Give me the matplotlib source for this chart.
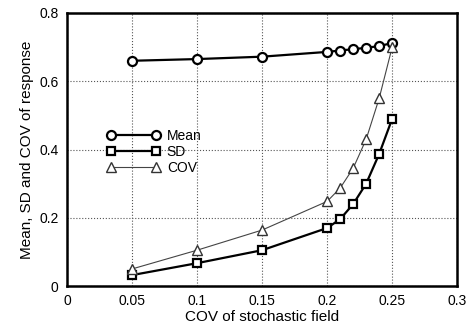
import numpy as np
import matplotlib

matplotlib.use('Agg')
import matplotlib.pyplot as plt

plt.rcParams['font.family'] = ['Liberation Sans', 'DejaVu Sans']

# data
cov_field = [0.05, 0.1, 0.15, 0.2, 0.21, 0.22, 0.23, 0.24, 0.25]
mean_resp = [0.660, 0.665, 0.672, 0.686, 0.690, 0.694, 0.698, 0.703, 0.712]
sd_resp = [0.032, 0.067, 0.105, 0.170, 0.196, 0.240, 0.300, 0.387, 0.490]
cov_resp = [0.050, 0.105, 0.164, 0.248, 0.287, 0.345, 0.430, 0.550, 0.700]

x_ticks = [0, 0.05, 0.1, 0.15, 0.2, 0.25, 0.3]
x_labels = ['0', '0.05', '0.1', '0.15', '0.2', '0.25', '0.3']
y_ticks = [0, 0.2, 0.4, 0.6, 0.8]
y_labels = ['0', '0.2', '0.4', '0.6', '0.8']

fig = plt.figure(figsize=(4.68, 3.33), dpi=100)
ax = fig.add_axes([0.143, 0.141, 0.834, 0.82])

ax.plot(cov_field, mean_resp, '-', color='black', lw=1.6, marker='o', ms=6.5,
        mfc='white', mec='black', mew=1.6, label='Mean')
ax.plot(cov_field, sd_resp, '-', color='black', lw=1.6, marker='s', ms=6,
        mfc='white', mec='black', mew=1.6, label='SD')
ax.plot(cov_field, cov_resp, '-', color='#444444', lw=0.8, marker='^', ms=6.5,
        mfc='white', mec='#333333', mew=1.0, label='COV')

ax.set_xlim(0, 0.3)
ax.set_ylim(0, 0.8)
ax.set_xticks(x_ticks)
ax.set_xticklabels(x_labels)
ax.set_yticks(y_ticks)
ax.set_yticklabels(y_labels)
ax.tick_params(direction='in', length=0, labelsize=10, pad=6)
ax.grid(True, linestyle=':', color='#555555', lw=0.8)
for s in ax.spines.values():
    s.set_linewidth(1.8)

ax.set_xlabel('COV of stochastic field', fontsize=11, labelpad=1)
ax.set_ylabel('Mean, SD and COV of response', fontsize=11, labelpad=4)

ax.legend(loc='upper left', bbox_to_anchor=(0.085, 0.60), frameon=False,
          handlelength=3.8, fontsize=10, labelspacing=0.15, borderpad=0,
          handletextpad=0.5, numpoints=2)

plt.savefig('out.png', dpi=100)
